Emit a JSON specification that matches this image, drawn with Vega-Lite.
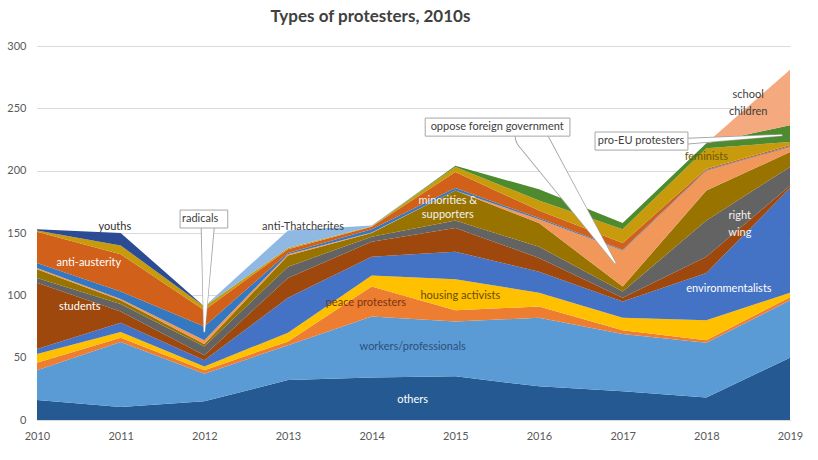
{
  "$schema": "https://vega.github.io/schema/vega-lite/v6.json",
  "autosize": {"type": "none"},
  "width": 753,
  "height": 374,
  "padding": {"left": 37, "top": 46, "right": 28, "bottom": 40},
  "background": "white",
  "title": {
    "text": "Types of protesters, 2010s",
    "fontSize": 17,
    "fontWeight": "bold",
    "font": "Lato",
    "color": "#404040",
    "anchor": "middle",
    "dx": -43,
    "offset": 14
  },
  "datasets": {
    "series": [
      {"s": "others", "k": 1, "year": [2010, 2011, 2012, 2013, 2014, 2015, 2016, 2017, 2018, 2019], "n": [16, 10.5, 15, 32, 34, 35, 27, 23, 18, 50]},
      {"s": "workers/professionals", "k": 2, "year": [2010, 2011, 2012, 2013, 2014, 2015, 2016, 2017, 2018, 2019], "n": [24, 52, 22, 28, 49, 44, 55, 46, 44, 46]},
      {"s": "peace protesters", "k": 3, "year": [2010, 2011, 2012, 2013, 2014, 2015, 2016, 2017, 2018, 2019], "n": [6, 3.5, 3, 3, 24, 9, 9, 3, 2, 2.5]},
      {"s": "housing activists", "k": 4, "year": [2010, 2011, 2012, 2013, 2014, 2015, 2016, 2017, 2018, 2019], "n": [7, 4.5, 3, 7, 9, 25, 11, 10, 16, 3.5]},
      {"s": "environmentalists", "k": 5, "year": [2010, 2011, 2012, 2013, 2014, 2015, 2016, 2017, 2018, 2019], "n": [4, 7.5, 5, 28, 15, 22, 17, 13, 38, 84]},
      {"s": "students", "k": 6, "year": [2010, 2011, 2012, 2013, 2014, 2015, 2016, 2017, 2018, 2019], "n": [53, 9, 4, 16, 12, 19, 11, 3, 13, 2]},
      {"s": "right wing", "k": 7, "year": [2010, 2011, 2012, 2013, 2014, 2015, 2016, 2017, 2018, 2019], "n": [4, 6, 7, 9, 4, 6, 9, 5, 29, 15]},
      {"s": "minorities & supporters", "k": 8, "year": [2010, 2011, 2012, 2013, 2014, 2015, 2016, 2017, 2018, 2019], "n": [7, 3, 2, 9, 3, 24, 19, 4, 24, 12]},
      {"s": "oppose foreign government", "k": 9, "year": [2010, 2011, 2012, 2013, 2014, 2015, 2016, 2017, 2018, 2019], "n": [1, 1, 3, 1, 0.5, 0, 3, 29, 16, 4]},
      {"s": "radicals", "k": 10, "year": [2010, 2011, 2012, 2013, 2014, 2015, 2016, 2017, 2018, 2019], "n": [4, 6, 11, 1, 2.5, 2, 1, 0.5, 0.5, 0.5]},
      {"s": "anti-austerity", "k": 11, "year": [2010, 2011, 2012, 2013, 2014, 2015, 2016, 2017, 2018, 2019], "n": [25, 30, 13, 3, 2, 13, 6, 5.5, 1, 1]},
      {"s": "feminists", "k": 12, "year": [2010, 2011, 2012, 2013, 2014, 2015, 2016, 2017, 2018, 2019], "n": [1, 7, 3, 1, 0.5, 4, 8, 11, 16.5, 2.5]},
      {"s": "youths", "k": 13, "year": [2010, 2011, 2012, 2013, 2014, 2015, 2016, 2017, 2018, 2019], "n": [1, 10, 0, 0, 0, 0, 0, 0, 0, 0]},
      {"s": "pro-EU protesters", "k": 14, "year": [2010, 2011, 2012, 2013, 2014, 2015, 2016, 2017, 2018, 2019], "n": [0, 0, 0, 0, 0, 1, 9, 5, 4, 13.5]},
      {"s": "anti-Thatcherites", "k": 15, "year": [2010, 2011, 2012, 2013, 2014, 2015, 2016, 2017, 2018, 2019], "n": [0, 0, 0, 14, 0.5, 0, 0, 0, 0, 0]},
      {"s": "school children", "k": 16, "year": [2010, 2011, 2012, 2013, 2014, 2015, 2016, 2017, 2018, 2019], "n": [0, 0, 0, 0, 0, 0, 0, 0, 0, 44.5]}
    ],
    "labels": [
      {"label": "others", "year": 2014.49, "v": 16},
      {"label": "workers/professionals", "year": 2014.49, "v": 58.5},
      {"label": "peace protesters", "year": 2013.93, "v": 94},
      {"label": "housing activists", "year": 2015.06, "v": 99.5},
      {"label": "environmentalists", "year": 2018.27, "v": 105},
      {"label": "students", "year": 2010.51, "v": 90.6},
      {"label": "anti-austerity", "year": 2010.62, "v": 126},
      {"label": "youths", "year": 2010.93, "v": 155},
      {"label": "radicals", "year": 2011.95, "v": 161},
      {"label": "anti-Thatcherites", "year": 2013.18, "v": 155},
      {"label": "minorities &", "year": 2014.91, "v": 175.6},
      {"label": "supporters", "year": 2014.91, "v": 164.4},
      {"label": "oppose foreign government", "year": 2015.5, "v": 235},
      {"label": "pro-EU protesters", "year": 2017.22, "v": 223.7},
      {"label": "feminists", "year": 2018.0, "v": 211},
      {"label": "right", "year": 2018.4, "v": 163.6},
      {"label": "wing", "year": 2018.4, "v": 150},
      {"label": "school", "year": 2018.5, "v": 260.6},
      {"label": "children", "year": 2018.5, "v": 247}
    ],
    "wedges": [
      {"c": "radicals", "i": 0, "year": 2012.04, "v": 154, "w": 12},
      {"c": "radicals", "i": 1, "year": 2012.0, "v": 71, "w": 0},
      {"c": "oppose", "i": 0, "year": 2015.9, "v": 227.7, "w": 30},
      {"c": "oppose", "i": 1, "year": 2016.91, "v": 126, "w": 0},
      {"c": "proeu", "i": 0, "year": 2017.78, "v": 223.7, "w": 5},
      {"c": "proeu", "i": 1, "year": 2018.9, "v": 228.5, "w": 0}
    ],
    "boxes": [
      {"b": "radicals", "x1": 2011.71, "x2": 2012.28, "y1": 154, "y2": 168.4},
      {"b": "oppose", "x1": 2014.64, "x2": 2016.37, "y1": 227.7, "y2": 242.2},
      {"b": "proeu", "x1": 2016.67, "x2": 2017.78, "y1": 216.5, "y2": 231}
    ]
  },
  "layer": [
    {
      "data": {"name": "series"},
      "transform": [{"flatten": ["year", "n"]}],
      "mark": {"type": "area", "interpolate": "linear"},
      "encoding": {
        "x": {
          "field": "year",
          "type": "quantitative",
          "scale": {"domain": [2010, 2019], "nice": false, "zero": false},
          "axis": {
            "title": null,
            "values": [2010, 2011, 2012, 2013, 2014, 2015, 2016, 2017, 2018, 2019],
            "format": "d",
            "grid": false,
            "ticks": false,
            "domainColor": "#D9D9D9",
            "labelPadding": 10,
            "labelFlush": false
          }
        },
        "y": {
          "field": "n",
          "type": "quantitative",
          "stack": "zero",
          "scale": {"domain": [0, 300], "nice": false},
          "axis": {
            "title": null,
            "values": [0, 50, 100, 150, 200, 250, 300],
            "grid": true,
            "gridColor": "#D9D9D9",
            "domain": false,
            "ticks": false,
            "labelPadding": 11,
            "labelFlush": false
          }
        },
        "color": {
          "field": "s",
          "type": "nominal",
          "scale": {
            "domain": ["others", "workers/professionals", "peace protesters", "housing activists", "environmentalists", "students", "right wing", "minorities & supporters", "oppose foreign government", "radicals", "anti-austerity", "feminists", "youths", "pro-EU protesters", "anti-Thatcherites", "school children"],
            "range": ["#245A91", "#5B9BD5", "#ED7D31", "#FFC000", "#4472C4", "#9E480E", "#636363", "#997300", "#F1975A", "#3378C0", "#D0601A", "#C89B0C", "#2B4C94", "#4E8B2E", "#8FB9E3", "#F4A97E"]
          },
          "legend": null
        },
        "order": {"field": "k", "type": "quantitative"}
      }
    },
    {
      "data": {"name": "wedges"},
      "mark": {"type": "trail", "color": "#A6A6A6"},
      "encoding": {
        "x": {"field": "year", "type": "quantitative", "axis": {"title": null}},
        "y": {"field": "v", "type": "quantitative", "axis": {"title": null}},
        "detail": {"field": "c"},
        "order": {"field": "i", "type": "quantitative"},
        "size": {"field": "w", "type": "quantitative", "scale": {"domain": [0, 40], "range": [2, 42]}, "legend": null}
      }
    },
    {
      "data": {"name": "wedges"},
      "mark": {"type": "trail", "color": "white"},
      "encoding": {
        "x": {"field": "year", "type": "quantitative", "axis": {"title": null}},
        "y": {"field": "v", "type": "quantitative", "axis": {"title": null}},
        "detail": {"field": "c"},
        "order": {"field": "i", "type": "quantitative"},
        "size": {"field": "w", "type": "quantitative", "scale": {"domain": [0, 40], "range": [0, 40]}, "legend": null}
      }
    },
    {
      "data": {"name": "boxes"},
      "mark": {"type": "rect", "fill": "white", "stroke": "#A6A6A6", "strokeWidth": 1},
      "encoding": {
        "x": {"field": "x1", "type": "quantitative", "axis": {"title": null}},
        "x2": {"field": "x2"},
        "y": {"field": "y1", "type": "quantitative", "axis": {"title": null}},
        "y2": {"field": "y2"}
      }
    },
    {
      "data": {"name": "labels"},
      "mark": {"type": "text", "font": "Lato", "fontSize": 11, "align": "center", "baseline": "middle"},
      "encoding": {
        "x": {"field": "year", "type": "quantitative", "axis": {"title": null}},
        "y": {"field": "v", "type": "quantitative", "axis": {"title": null}},
        "text": {"field": "label"},
        "color": {
          "field": "label",
          "type": "nominal",
          "scale": {
            "domain": ["others", "workers/professionals", "peace protesters", "housing activists", "environmentalists", "students", "anti-austerity", "youths", "radicals", "anti-Thatcherites", "minorities &", "supporters", "oppose foreign government", "pro-EU protesters", "feminists", "right", "wing", "school", "children"],
            "range": ["#FFFFFF", "#2C4F7C", "#7A3410", "#6A4C00", "#FFFFFF", "#FFFFFF", "#FFFFFF", "#303030", "#404040", "#404040", "#F2F2F2", "#F2F2F2", "#404040", "#404040", "#6E5800", "#F2F2F2", "#F2F2F2", "#404040", "#404040"]
          },
          "legend": null
        }
      }
    }
  ],
  "resolve": {"scale": {"color": "independent", "size": "independent"}},
  "config": {
    "font": "Lato",
    "view": {"stroke": null},
    "axis": {"labelFont": "Lato", "labelFontSize": 11, "labelColor": "#595959"}
  }
}
